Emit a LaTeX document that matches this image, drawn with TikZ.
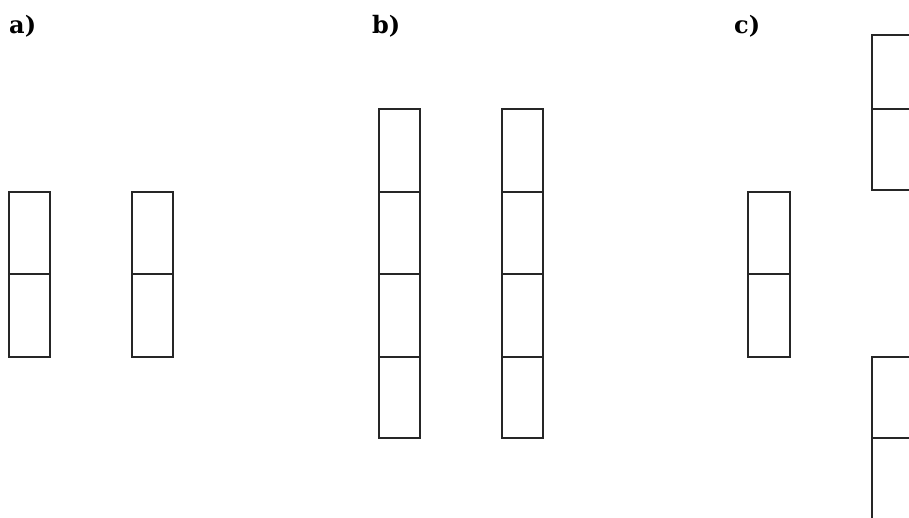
\documentclass[tikz,border=0pt]{standalone}
\usepackage{fontspec}
\setmainfont{DejaVu Serif}
\begin{document}
\begin{tikzpicture}[x=1pt,y=-1pt,
  cell/.style={draw=black!85,line width=1.6pt},
  lbl/.style={anchor=base west,inner sep=0pt,font=\fontsize{24}{28}\selectfont\bfseries}]
\useasboundingbox (0,0) rectangle (909,517);
\clip (0,0) rectangle (909,517);
% labels
\node[lbl] (la) at (9,33) {a)};
\node[lbl] (lb) at (372,33) {b)};
\node[lbl] (lc) at (734,33) {c)};
% a)
\foreach \x in {9,132}{
  \draw[cell] (\x,192) rectangle ++(41,165);
  \draw[cell] (\x,274) -- ++(41,0);
}
% b)
\foreach \x in {379,502}{
  \draw[cell] (\x,109) rectangle ++(41,329);
  \foreach \y in {192,274,357}{\draw[cell] (\x,\y) -- ++(41,0);}
}
% c)
\draw[cell] (748,192) rectangle (790,357);
\draw[cell] (748,274) -- (790,274);
\draw[cell] (872,35) rectangle (914,190);
\draw[cell] (872,109) -- (914,109);
\draw[cell] (872,357) rectangle (914,530);
\draw[cell] (872,438) -- (914,438);
\end{tikzpicture}
\end{document}
